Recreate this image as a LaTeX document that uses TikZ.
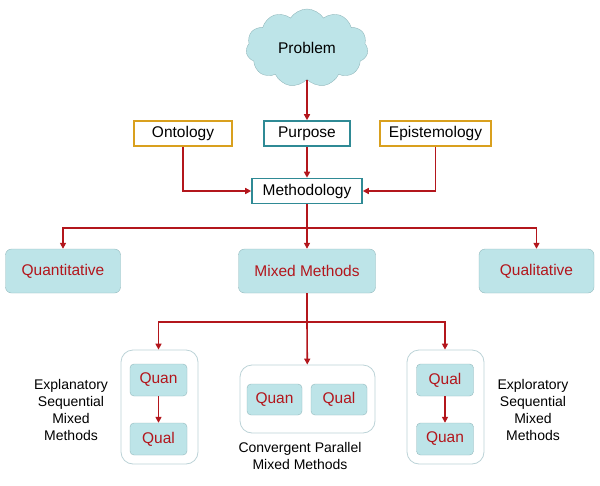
\documentclass[tikz,border=0pt]{standalone}
\usepackage{fontspec}
\setmainfont{Liberation Sans}
\usetikzlibrary{shapes.symbols,arrows.meta}

\definecolor{paleblue}{HTML}{BDE4E8}
\definecolor{boxline}{HTML}{93B9BD}
\definecolor{groupline}{HTML}{BCD3D7}
\definecolor{darkred}{HTML}{B3161C}
\definecolor{gold}{HTML}{D9A01E}
\definecolor{teal}{HTML}{2F8A95}

\begin{document}
\begin{tikzpicture}[x=1pt, y=-1pt, >={Triangle[length=6pt,width=6pt]}]

    \tikzset{frame/.style={%
      draw,%
      rectangle,%
      fill=white,%
      line width=1.6pt,%
      inner sep=0pt,%
      minimum height=25pt,%
      font=\fontsize{15.5}{18}\selectfont}%
    };

    \tikzset{goldframe/.style={frame, draw=gold}};
    \tikzset{tealframe/.style={frame, draw=teal}};

    \tikzset{method/.style={%
      draw=boxline,%
      fill=paleblue,%
      rectangle,%
      rounded corners=6pt,%
      inner sep=0pt,%
      minimum height=44pt,%
      text=darkred,%
      font=\fontsize{15.5}{18}\selectfont}%
    };

    \tikzset{smallmethod/.style={method, minimum height=32pt, minimum width=57pt, rounded corners=4pt}};

    \tikzset{group/.style={draw=groupline, line width=0.8pt, fill=white, rectangle, rounded corners=12pt, inner sep=0pt}};

    \tikzset{caption/.style={align=center, font=\fontsize{14}{17}\selectfont}};

    \tikzset{link/.style={->, draw=darkred, line width=1.6pt}};

    \useasboundingbox (0,0) rectangle (600,485);

    %%%%%%%%%%%%%%%
    % problem     %
    %%%%%%%%%%%%%%%
    \node [cloud, cloud puffs=11, cloud puff arc=115, aspect=1.6, draw=boxline,
      fill=paleblue, minimum width=122pt, minimum height=78pt, inner sep=0pt,
      font=\fontsize{15.5}{18}\selectfont] (prob) at (307,48) {Problem};

    %%%%%%%%%%%%%%%
    % foundations %
    %%%%%%%%%%%%%%%
    \node [goldframe, minimum width=98pt] (onto) at (183,133.5) {Ontology};

    \node [tealframe, minimum width=86pt] (purp) at (307,133.5) {Purpose};

    \node [goldframe, minimum width=111pt] (epis) at (435.5,133.5) {Epistemology};

    \node [tealframe, minimum width=110pt] (meth) at (307,191) {Methodology};

    %%%%%%%%%%%%%%%
    % approaches  %
    %%%%%%%%%%%%%%%
    \node [method, minimum width=115pt] (quant) at (63,271) {Quantitative};

    \node [method, minimum width=137pt] (mixed) at (307,271) {Mixed Methods};

    \node [method, minimum width=115pt] (qual) at (536.5,271) {Qualitative};

    %%%%%%%%%%%%%%%
    % designs     %
    %%%%%%%%%%%%%%%
    \node [group, minimum width=77pt, minimum height=114pt] (expl) at (159.5,407) {};
    \node [smallmethod] (explquan) at (158.5,380) {Quan};
    \node [smallmethod] (explqual) at (158.5,439) {Qual};

    \node [group, minimum width=135pt, minimum height=68pt] (conv) at (307.5,399) {};
    \node [smallmethod, minimum width=55pt, minimum height=31pt] (convquan) at (274.5,399.5) {Quan};
    \node [smallmethod, minimum width=56pt, minimum height=31pt] (convqual) at (339,399.5) {Qual};

    \node [group, minimum width=77pt, minimum height=114pt] (expo) at (445.5,407) {};
    \node [smallmethod] (expoqual) at (445,380) {Qual};
    \node [smallmethod] (expoquan) at (445,439) {Quan};

    \node [caption] (expltext) at (71,410) {Explanatory\\Sequential\\Mixed\\Methods};
    \node [caption] (convtext) at (300,456) {Convergent Parallel\\Mixed Methods};
    \node [caption] (expotext) at (533,410) {Exploratory\\Sequential\\Mixed\\Methods};

    %%%%%%%%%%%%%%%
    % arrows      %
    %%%%%%%%%%%%%%%
    \coordinate (split) at (307,228);
    \coordinate (mixsplit) at (307,322);

    \draw [link] (prob.south -| purp) -- (purp);
    \draw [link] (purp) -- (meth);
    \draw [link] (onto) |- (meth);
    \draw [link] (epis) |- (meth);
    \draw [link, -] (meth) -- (split);
    \draw [link] (split) -| (quant);
    \draw [link] (split) -- (mixed);
    \draw [link] (split) -| (qual);
    \draw [link, -] (mixed) -- (mixsplit);
    \draw [link] (mixsplit) -| (expl.north -| explquan);
    \draw [link] (mixsplit) -- (conv);
    \draw [link] (mixsplit) -| (expo.north -| expoqual);
    \draw [link] (explquan) -- (explqual);
    \draw [link] (expoqual) -- (expoquan);

  \end{tikzpicture}
\end{document}
